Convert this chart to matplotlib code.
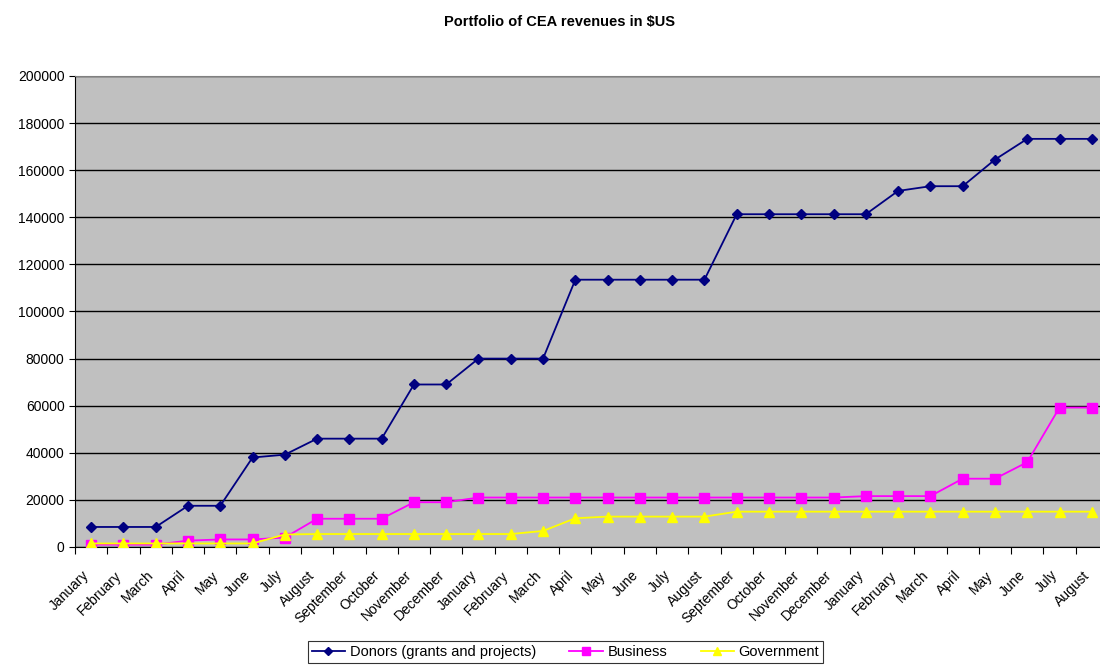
import matplotlib
matplotlib.use("Agg")
import matplotlib.pyplot as plt
import matplotlib.transforms as mtransforms
import numpy as np

plt.rcParams["font.family"] = ["Liberation Sans", "DejaVu Sans"]

MONTHS = ["January", "February", "March", "April", "May", "June", "July",
          "August", "September", "October", "November", "December"]
LABELS = MONTHS + MONTHS + MONTHS[:8]

DONORS = [8500, 8500, 8500, 17500, 17500, 38000, 39200, 46000, 46000, 46000,
          69000, 69000, 80000, 80000, 80000, 113500, 113500, 113500, 113500,
          113500, 141300, 141300, 141300, 141300, 141300, 151200, 153200,
          153200, 164500, 173300, 173300, 173300]
BUSINESS = [1000, 1000, 1000, 2700, 3200, 3200, 4000, 12000, 12000, 12000,
            19000, 19000, 21000, 21000, 21000, 21000, 21000, 21000, 21000,
            21000, 21000, 21000, 21000, 21000, 21600, 21600, 21600, 29000,
            29000, 36000, 59200, 59200]
GOVERNMENT = [1500, 1500, 1500, 1500, 1500, 1500, 5300, 5500, 5500, 5500,
              5500, 5500, 5500, 5500, 6800, 12200, 12900, 12900, 12900, 12900,
              15000, 15000, 15000, 15000, 15000, 15000, 15000, 15000, 15000,
              15000, 15000, 15000]

fig = plt.figure(figsize=(11, 6.66), dpi=100)
ax = fig.add_axes([0.0682, 0.1787, 0.939, 0.7072])
ax.set_facecolor("#C0C0C0")

x = np.arange(len(LABELS))
ax.plot(x, DONORS, "-D", color="#000080", ms=5, lw=1.3,
        label="Donors (grants and projects)", zorder=4)
ax.plot(x, BUSINESS, "-s", color="#FF00FF", ms=6.5, lw=1.3,
        label="Business", zorder=3)
ax.plot(x, GOVERNMENT, "-^", color="#FFFF00", ms=7, lw=1.3,
        label="Government", zorder=3)

ax.set_ylim(0, 200000)
ax.set_yticks(np.arange(0, 200001, 20000))
ax.yaxis.grid(True, color="black", lw=1)
ax.set_axisbelow(True)
ax.tick_params(axis="y", labelsize=10, length=4, direction="out")

ax.set_xlim(-0.5, len(LABELS) - 0.5)
ax.set_xticks(np.arange(len(LABELS) + 1) - 0.5)
ax.set_xticklabels([])
ax.set_xticks(x, minor=True)
ax.set_xticklabels(LABELS, minor=True, rotation=45, ha="right",
                   rotation_mode="anchor", fontsize=10)
ax.tick_params(axis="x", which="major", length=5, direction="out")
ax.tick_params(axis="x", which="minor", length=0, pad=8)
# nudge the month labels down-left like the original
shift = mtransforms.ScaledTranslation(-0.09, -0.10, fig.dpi_scale_trans)
for lab in ax.get_xticklabels(minor=True):
    lab.set_transform(lab.get_transform() + shift)

for s in ["left", "bottom"]:
    ax.spines[s].set_color("black")
for s in ["top", "right"]:
    ax.spines[s].set_color("#808080")

fig.text(0.509, 0.967, "Portfolio of CEA revenues in \\$US", ha="center",
         va="center", fontsize=10.5, fontweight="bold")

leg = fig.legend(loc="lower center", bbox_to_anchor=(0.514, -0.006), ncol=3,
                 frameon=True, fancybox=False, edgecolor="black",
                 fontsize=10.5, handlelength=2.3, handletextpad=0.3,
                 columnspacing=2.3, borderpad=0.25, markerscale=0.8)
leg.get_frame().set_linewidth(0.8)

fig.savefig("out.png", dpi=100)
